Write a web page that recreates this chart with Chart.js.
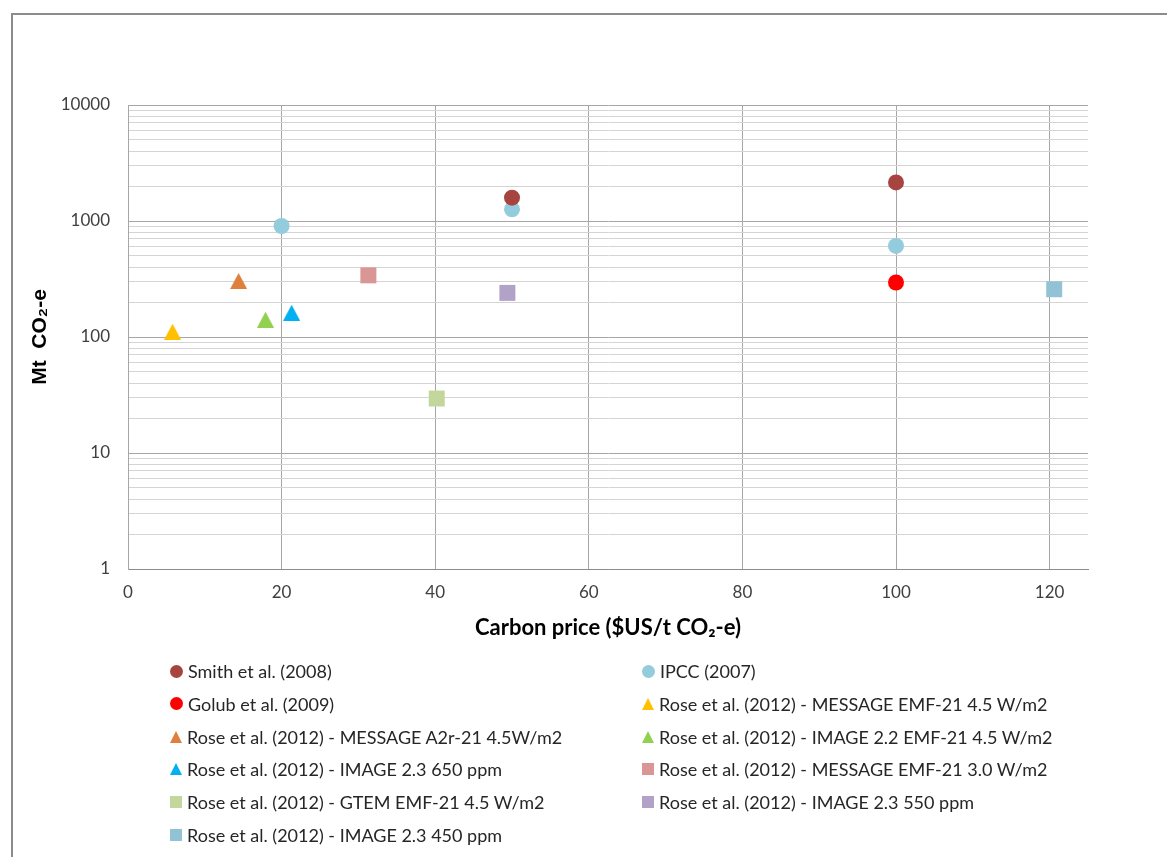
<!DOCTYPE html>
<html>
<head>
<meta charset="utf-8">
<script src="https://cdn.jsdelivr.net/npm/chart.js@4.4.1/dist/chart.umd.min.js"></script>
<style>
    html, body { margin: 0; padding: 0; background: #fff; }
    #wrap { position: relative; width: 1167px; height: 857px; overflow: hidden; }
    #frame { position: absolute; left: 11px; top: 13px; width: 1300px; height: 1000px; border-left: 2px solid #8c8c8c; border-top: 2px solid #8c8c8c; }
    #chart { position: absolute; left: 0; top: 0; }
    #legend { position: absolute; left: 170px; top: 659px; display: grid; grid-template-columns: 472px 460px; grid-auto-rows: 32.8px; font-family: Lato, "Open Sans", sans-serif; font-size: 18px; color: #262626; }
    #legend .item { display: flex; align-items: center; height: 24px; white-space: nowrap; }
    #legend .mark { width: 13px; height: 13px; margin-right: 5px; flex: none; }
</style>
</head>
<body>
<div id="wrap">
    <div id="frame"></div>
    <canvas id="chart" width="1167" height="857"></canvas>
    <div id="legend"></div>
</div>
<script>
// Séries : prix du carbone ($US/t CO2-e) et potentiel (Mt CO2-e)
const seriesNames = [
    'Smith et al. (2008)',
    'IPCC (2007)',
    'Golub et al. (2009)',
    'Rose et al. (2012) - MESSAGE EMF-21 4.5 W/m2',
    'Rose et al. (2012) - MESSAGE A2r-21 4.5W/m2',
    'Rose et al. (2012) - IMAGE 2.2 EMF-21 4.5 W/m2',
    'Rose et al. (2012) - IMAGE 2.3 650 ppm',
    'Rose et al. (2012) - MESSAGE EMF-21 3.0 W/m2',
    'Rose et al. (2012) - GTEM EMF-21 4.5 W/m2',
    'Rose et al. (2012) - IMAGE 2.3 550 ppm',
    'Rose et al. (2012) - IMAGE 2.3 450 ppm'
];
const seriesPrices = [
    [50, 100],
    [20, 50, 100],
    [100],
    [5.8],
    [14.4],
    [17.9],
    [21.3],
    [31.3],
    [40.2],
    [49.4],
    [120.6]
];
const seriesValues = [
    [1590, 2150],
    [905, 1260, 610],
    [295],
    [111],
    [304],
    [141],
    [162],
    [340],
    [29.5],
    [240],
    [258]
];
const seriesColors = ['#A84440', '#93CDDD', '#FF0000', '#FFC000', '#DE7F3C', '#92D050',
    '#00B0F0', '#D99694', '#C3D69B', '#B3A2C7', '#92C3D5'];
const seriesShapes = ['circle', 'circle', 'circle', 'triangle', 'triangle', 'triangle',
    'triangle', 'rect', 'rect', 'rect', 'rect'];

const xTicks = [0, 20, 40, 60, 80, 100, 120];
const yTickLabels = ['1', '10', '100', '1000', '10000'];

const tickFont = { family: 'Lato, "Open Sans", sans-serif', size: 17 };

// grille logarithmique : 1..9 pour chaque décade
const yTicks = [];
for (let e = 0; e < 4; e++) {
    for (let d = 1; d < 10; d++) yTicks.push(d * Math.pow(10, e));
}
yTicks.push(10000);

// triangle centré sur sa boîte (comme Excel)
function makeTriangle(color, w, h) {
    const c = document.createElement('canvas');
    c.width = w;
    c.height = h;
    const g = c.getContext('2d');
    g.fillStyle = color;
    g.beginPath();
    g.moveTo(w / 2, 0);
    g.lineTo(w, h);
    g.lineTo(0, h);
    g.closePath();
    g.fill();
    return c;
}

const radius = { circle: 8, triangle: 9, rect: 11.3 };

const datasets = seriesNames.map((name, i) => {
    const shape = seriesShapes[i];
    return {
        label: name,
        data: seriesPrices[i].map((p, j) => ({ x: p, y: seriesValues[i][j] })),
        backgroundColor: seriesColors[i],
        borderColor: seriesColors[i],
        borderWidth: 0,
        shape: shape,
        pointStyle: shape === 'triangle' ? makeTriangle(seriesColors[i], 17, 16) : shape,
        pointRadius: radius[shape],
        pointHoverRadius: radius[shape]
    };
});

const ctx = document.getElementById('chart').getContext('2d');
const chart = new Chart(ctx, {
    type: 'scatter',
    data: { datasets: datasets },
    options: {
        responsive: false,
        animation: false,
        layout: { padding: { left: 0, top: 105, right: 79, bottom: 208 } },
        plugins: {
            legend: { display: false },
            tooltip: { enabled: false }
        },
        scales: {
            x: {
                type: 'linear',
                min: 0,
                max: 125,
                afterBuildTicks: scale => { scale.ticks = xTicks.map(v => ({ value: v })); },
                afterFit: scale => { scale.height = 80; },
                grid: { color: '#A6A6A6', drawTicks: false, tickLength: 0 },
                border: { color: '#8C8C8C', width: 1 },
                ticks: { font: tickFont, color: '#404040', padding: 13, maxRotation: 0 },
                title: {
                    display: true,
                    text: 'Carbon price ($US/t CO₂-e)',
                    font: { family: 'Lato, "Open Sans", sans-serif', size: 22, weight: 'bold' },
                    color: '#000',
                    padding: { top: 0, bottom: 8 }
                }
            },
            y: {
                type: 'logarithmic',
                min: 1,
                max: 10000,
                afterBuildTicks: scale => { scale.ticks = yTicks.map(v => ({ value: v })); },
                afterFit: scale => { scale.width = 128; },
                grid: {
                    drawTicks: false,
                    tickLength: 0,
                    color: c => yTickLabels.includes(String(c.tick && c.tick.value)) ? '#A6A6A6' : '#D4D4D4'
                },
                border: { color: '#A6A6A6', width: 1 },
                ticks: {
                    font: tickFont,
                    color: '#404040',
                    padding: 18,
                    autoSkip: false,
                    callback: v => yTickLabels.includes(String(v)) ? String(v) : ''
                },
                title: {
                    display: true,
                    text: 'Mt  CO₂-e',
                    font: { family: '"Liberation Sans", Arial, sans-serif', size: 21, weight: 'bold' },
                    color: '#000',
                    padding: { top: 28, bottom: 0 }
                }
            }
        }
    }
});

// Légende sur deux colonnes, construite à partir des séries
const legend = document.getElementById('legend');
chart.data.datasets.forEach(ds => {
    const item = document.createElement('div');
    item.className = 'item';
    const mark = document.createElement('span');
    mark.className = 'mark';
    if (ds.shape === 'circle') {
        mark.style.background = ds.backgroundColor;
        mark.style.borderRadius = '50%';
    } else if (ds.shape === 'rect') {
        mark.style.background = ds.backgroundColor;
        mark.style.width = '12px';
        mark.style.height = '12px';
    } else {
        mark.style.width = '0';
        mark.style.height = '0';
        mark.style.borderLeft = '6.5px solid transparent';
        mark.style.borderRight = '6.5px solid transparent';
        mark.style.borderBottom = '12px solid ' + ds.backgroundColor;
    }
    const text = document.createElement('span');
    text.textContent = ds.label;
    item.appendChild(mark);
    item.appendChild(text);
    legend.appendChild(item);
});
</script>
</body>
</html>
